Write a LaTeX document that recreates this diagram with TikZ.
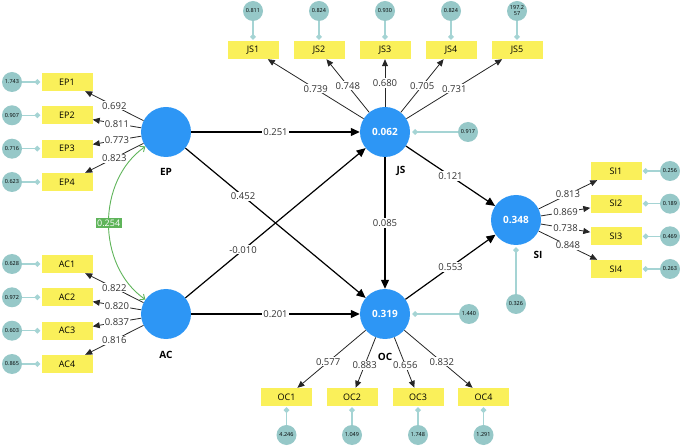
\documentclass[tikz,border=0pt]{standalone}
\usepackage{fontspec}
\setmainfont{Open Sans}
\usetikzlibrary{arrows.meta}

\definecolor{latentblue}{RGB}{45,150,245}
\definecolor{itemyellow}{RGB}{250,240,90}
\definecolor{residteal}{RGB}{150,200,200}
\definecolor{residline}{RGB}{165,212,212}
\definecolor{covgreen}{RGB}{95,180,90}

\begin{document}
\begin{tikzpicture}[
				x=1pt, y=-1pt,
				line join=round,
				latent/.style={circle, fill=latentblue, minimum size=50pt, inner sep=0pt,
					text=white, font=\fontsize{10}{12}\selectfont\bfseries},
				item/.style={rectangle, fill=itemyellow, minimum width=51pt, minimum height=18pt,
					inner sep=0pt, font=\fontsize{9}{11}\selectfont},
				resid/.style={circle, fill=residteal, minimum size=20pt, inner sep=0pt,
					align=center, font=\fontsize{5.5}{6}\selectfont},
				latname/.style={font=\fontsize{10}{12}\selectfont\bfseries},
				errline/.style={residline, line width=1.3pt, -{Diamond[length=6pt,width=6pt]}, shorten >=1pt},
				loading/.style={draw=black!85, line width=0.8pt, -{Triangle[length=7pt,width=6pt]}},
				structpath/.style={line width=1.2pt, -{Triangle[length=9pt,width=8pt]}},
				coef/.style={fill=white, inner sep=1pt, text=black!80, font=\fontsize{9.5}{11}\selectfont}
				]
				\useasboundingbox (0,0) rectangle (680,446);
				
				% Latent variables
				\node[latent] (ep) at (166,132) {};
				\node[latent] (ac) at (166,314) {};
				\node[latent] (js) at (385,132) {0.062};
				\node[latent] (oc) at (385,314) {0.319};
				\node[latent] (si) at (516,220) {0.348};
				
				% Latent names
				\node[latname] (ep-name) at (166,172) {EP};
				\node[latname] (ac-name) at (166,355) {AC};
				\node[latname] (js-name) at (401,171) {JS};
				\node[latname] (oc-name) at (385,357) {OC};
				\node[latname] (si-name) at (538,255) {SI};
				
				% Indicators
				\node[item] (ep1) at (67,82) {EP1};
				\node[item] (ep2) at (67,115.3) {EP2};
				\node[item] (ep3) at (67,148.7) {EP3};
				\node[item] (ep4) at (67,182) {EP4};
				\node[item] (ac1) at (67,264) {AC1};
				\node[item] (ac2) at (67,297.3) {AC2};
				\node[item] (ac3) at (67,330.7) {AC3};
				\node[item] (ac4) at (67,364) {AC4};
				\node[item] (js1) at (253,50) {JS1};
				\node[item] (js2) at (319,50) {JS2};
				\node[item] (js3) at (385,50) {JS3};
				\node[item] (js4) at (451,50) {JS4};
				\node[item] (js5) at (517,50) {JS5};
				\node[item] (si1) at (616,171) {SI1};
				\node[item] (si2) at (616,203.7) {SI2};
				\node[item] (si3) at (616,236.3) {SI3};
				\node[item] (si4) at (616,269) {SI4};
				\node[item] (oc1) at (286.5,397) {OC1};
				\node[item] (oc2) at (352,397) {OC2};
				\node[item] (oc3) at (418,397) {OC3};
				\node[item] (oc4) at (483.5,397) {OC4};
				
				% Residuals
				\node[resid] (e-ep1) at (12,82) {1.743};
				\node[resid] (e-ep2) at (12,115.3) {0.907};
				\node[resid] (e-ep3) at (12,148.7) {0.716};
				\node[resid] (e-ep4) at (12,182) {0.623};
				\node[resid] (e-ac1) at (12,264) {0.628};
				\node[resid] (e-ac2) at (12,297.3) {0.972};
				\node[resid] (e-ac3) at (12,330.7) {0.603};
				\node[resid] (e-ac4) at (12,364) {0.865};
				\node[resid] (e-js1) at (253,11) {0.811};
				\node[resid] (e-js2) at (319,11) {0.824};
				\node[resid] (e-js3) at (385,11) {0.930};
				\node[resid] (e-js4) at (451,11) {0.824};
				\node[resid] (e-js5) at (517,11) {197.2\\57};
				\node[resid] (e-si1) at (670,171) {0.256};
				\node[resid] (e-si2) at (670,203.7) {0.189};
				\node[resid] (e-si3) at (670,236.3) {0.469};
				\node[resid] (e-si4) at (670,269) {0.263};
				\node[resid] (e-oc1) at (286.5,435) {4.246};
				\node[resid] (e-oc2) at (352,435) {1.049};
				\node[resid] (e-oc3) at (418,435) {1.748};
				\node[resid] (e-oc4) at (483.5,435) {1.291};
				\node[resid] (e-js) at (468,132) {0.917};
				\node[resid] (e-oc) at (469,314) {1.440};
				\node[resid] (e-si) at (516,304) {0.326};
				
				% Residual lines
				\draw[errline] (e-ep1) -- (ep1);
				\draw[errline] (e-ep2) -- (ep2);
				\draw[errline] (e-ep3) -- (ep3);
				\draw[errline] (e-ep4) -- (ep4);
				\draw[errline] (e-ac1) -- (ac1);
				\draw[errline] (e-ac2) -- (ac2);
				\draw[errline] (e-ac3) -- (ac3);
				\draw[errline] (e-ac4) -- (ac4);
				\draw[errline] (e-js1) -- (js1);
				\draw[errline] (e-js2) -- (js2);
				\draw[errline] (e-js3) -- (js3);
				\draw[errline] (e-js4) -- (js4);
				\draw[errline] (e-js5) -- (js5);
				\draw[errline] (e-si1) -- (si1);
				\draw[errline] (e-si2) -- (si2);
				\draw[errline] (e-si3) -- (si3);
				\draw[errline] (e-si4) -- (si4);
				\draw[errline] (e-oc1) -- (oc1);
				\draw[errline] (e-oc2) -- (oc2);
				\draw[errline] (e-oc3) -- (oc3);
				\draw[errline] (e-oc4) -- (oc4);
				\draw[errline, shorten >=2pt] (e-js) -- (js);
				\draw[errline, shorten >=2pt] (e-oc) -- (oc);
				\draw[errline, shorten >=2pt] (e-si) -- (si);
				
				% Outer loadings
				\draw[loading] (ep) -- node[coef] {0.692} (ep1);
				\draw[loading] (ep) -- node[coef] {0.811} (ep2);
				\draw[loading] (ep) -- node[coef] {0.773} (ep3);
				\draw[loading] (ep) -- node[coef] {0.823} (ep4);
				\draw[loading] (ac) -- node[coef] {0.822} (ac1);
				\draw[loading] (ac) -- node[coef] {0.820} (ac2);
				\draw[loading] (ac) -- node[coef] {0.837} (ac3);
				\draw[loading] (ac) -- node[coef] {0.816} (ac4);
				\draw[loading] (js) -- node[coef] {0.739} (js1);
				\draw[loading] (js) -- node[coef] {0.748} (js2);
				\draw[loading] (js) -- node[coef] {0.680} (js3);
				\draw[loading] (js) -- node[coef] {0.705} (js4);
				\draw[loading] (js) -- node[coef] {0.731} (js5);
				\draw[loading] (si) -- node[coef] {0.813} (si1);
				\draw[loading] (si) -- node[coef] {0.869} (si2);
				\draw[loading] (si) -- node[coef] {0.738} (si3);
				\draw[loading] (si) -- node[coef] {0.848} (si4);
				\draw[loading] (oc) -- node[coef, pos=0.55] {0.577} (oc1);
				\draw[loading] (oc) -- node[coef, pos=0.55] {0.883} (oc2);
				\draw[loading] (oc) -- node[coef, pos=0.55] {0.656} (oc3);
				\draw[loading] (oc) -- node[coef, pos=0.55] {0.832} (oc4);
				
				% Path coefficients
				\draw[structpath] (ep) -- node[coef] {0.251} (js);
				\draw[structpath] (ep) -- node[coef, pos=0.32] {0.452} (oc);
				\draw[structpath] (ac) -- node[coef, pos=0.32] {-0.010} (js);
				\draw[structpath] (ac) -- node[coef] {0.201} (oc);
				\draw[structpath] (js) -- node[coef] {0.085} (oc);
				\draw[structpath] (js) -- node[coef] {0.121} (si);
				\draw[structpath] (oc) -- node[coef] {0.553} (si);
				
				% Correlation
				\draw[covgreen, line width=0.9pt,
					{Straight Barb[length=4pt,width=7pt]}-{Straight Barb[length=4pt,width=7pt]}]
					(ep) to[bend right=55] node[fill=covgreen, text=white, inner sep=1.5pt,
					font=\fontsize{9}{10}\selectfont] {0.254} (ac);
			\end{tikzpicture}
\end{document}
